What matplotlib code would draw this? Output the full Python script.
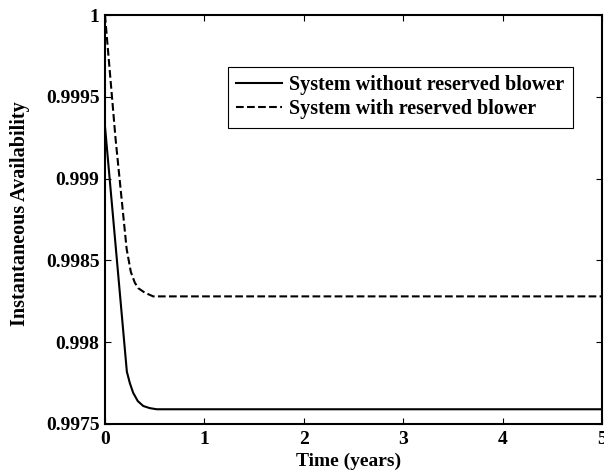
import numpy as np
import matplotlib
matplotlib.use('Agg')
import matplotlib.pyplot as plt

plt.rcParams['font.family'] = 'Liberation Serif'
plt.rcParams['font.weight'] = 'bold'
plt.rcParams['axes.labelweight'] = 'bold'
plt.rcParams['axes.linewidth'] = 1.5
plt.rcParams['xtick.direction'] = 'in'
plt.rcParams['ytick.direction'] = 'in'
plt.rcParams['xtick.top'] = True
plt.rcParams['ytick.right'] = True
plt.rcParams['xtick.major.size'] = 4
plt.rcParams['ytick.major.size'] = 4
plt.rcParams['xtick.major.width'] = 0.8
plt.rcParams['ytick.major.width'] = 0.8
plt.rcParams['xtick.labelsize'] = 14
plt.rcParams['ytick.labelsize'] = 14

# time in years, instantaneous availability
t_without = [0.0, 0.22, 0.25, 0.284, 0.33, 0.385, 0.45, 0.52, 5.0]
a_without = [0.99932, 0.99782, 0.99775, 0.99769, 0.99764, 0.99761, 0.997597, 0.99759, 0.99759]

t_with = [0.0, 0.107, 0.15, 0.218, 0.26, 0.30, 0.335, 0.40, 0.485, 5.0]
a_with = [1.0, 0.99924, 0.99898, 0.99857, 0.99843, 0.998364, 0.99833, 0.998303, 0.99828, 0.99828]

yticks = [0.9975, 0.998, 0.9985, 0.999, 0.9995, 1.0]
ytick_labels = ['0.9975', '0.998', '0.9985', '0.999', '0.9995', '1']

fig = plt.figure(figsize=(6.04, 4.75), dpi=100)
ax = fig.add_axes([0.1738, 0.1074, 0.8229, 0.8610])

ax.plot(t_without, a_without, '-', color='black', linewidth=1.5, label='System without reserved blower')
ax.plot(t_with, a_with, '--', color='black', linewidth=1.5, label='System with reserved blower')

ax.set_xlim(0, 5)
ax.set_ylim(0.9975, 1.0)
ax.set_xticks([0, 1, 2, 3, 4, 5])
ax.set_yticks(yticks)
ax.set_yticklabels(ytick_labels)
ax.tick_params(axis='x', pad=5)
ax.tick_params(axis='y', pad=4)

ax.set_xlabel('Time (years)', fontsize=14, fontweight='bold')
ax.xaxis.set_label_coords(0.49, -0.07, transform=ax.transAxes)
ax.xaxis.label.set_va('top')
ax.set_ylabel('Instantaneous Availability', fontsize=14.5, fontweight='bold')
ax.yaxis.set_label_coords(-0.15, 0.515, transform=ax.transAxes)

leg = ax.legend(loc='upper right', bbox_to_anchor=(0.9416, 0.873), bbox_transform=ax.transAxes,
                borderaxespad=0, fancybox=False, framealpha=1, edgecolor='black',
                prop={'size': 14.5, 'weight': 'bold'}, handlelength=2.3, handletextpad=0.35,
                labelspacing=0.2, borderpad=0.42)
leg.get_frame().set_linewidth(0.8)

fig.savefig('out.png', dpi=100)
